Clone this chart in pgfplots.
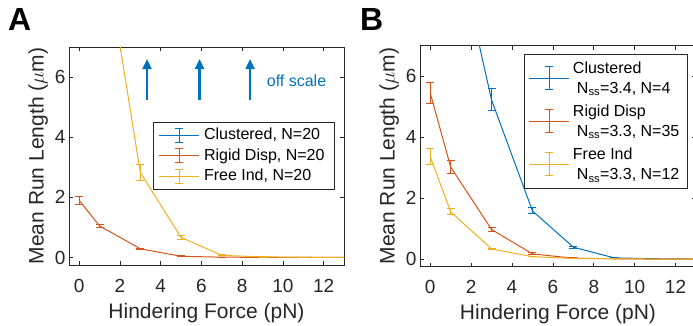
\documentclass[border=0pt]{standalone}
\usepackage{pgfplots}
\pgfplotsset{compat=1.18}
\usepackage{fontspec}
\setmainfont{Liberation Sans}
\usetikzlibrary{arrows.meta}
\definecolor{mblue}{rgb}{0,0.447,0.741}
\definecolor{morange}{rgb}{0.85,0.325,0.098}
\definecolor{myellow}{rgb}{0.929,0.694,0.125}
\definecolor{axgray}{rgb}{0.15,0.15,0.15}
\pgfplotsset{
  panel/.style={
    scale only axis, clip=true,
    xmin=-0.5, xmax=13, ymin=-0.25, ymax=7,
    xtick={0,2,4,6,8,10,12}, ytick={0,2,4,6},
    tick align=inside, major tick length=4bp,
    tick style={color=axgray, line width=0.6bp},
    axis line style={axgray, line width=0.7bp},
    /pgf/number format/assume math mode=true,
    ticklabel style={font=\fontsize{19bp}{21bp}\selectfont, text=axgray},
    xticklabel style={anchor=base, yshift=-27bp},
    label style={font=\fontsize{21bp}{24bp}\selectfont, text=axgray},
    xlabel style={at={(rel axis cs:0.5,0)}, anchor=base, yshift=-53bp},
    xlabel={Hindering Force (pN)},
    ylabel={Mean Run Length ($\mu$m)},
    legend cell align=left,
  },
  ebar/.style={color=#1, line width=1bp, mark=none,
    error bars/y dir=both, error bars/y explicit,
    error bars/error bar style={line width=1bp, color=#1},
    error bars/error mark options={rotate=90, mark size=4bp, line width=1bp, color=#1}},
  lgA/.style={legend image code/.code={
    \draw[#1, line width=1bp] (0bp,0bp) -- (40bp,0bp);
    \draw[#1, line width=1bp] (20bp,-7bp) -- (20bp,7bp);
    \draw[#1, line width=1bp] (16bp,7bp) -- (24bp,7bp);
    \draw[#1, line width=1bp] (16bp,-7bp) -- (24bp,-7bp);}},
  lgB/.style={legend image code/.code={
    \draw[#1, line width=1bp] (0bp,0bp) -- (40bp,0bp);
    \draw[#1, line width=1bp] (20bp,-11.5bp) -- (20bp,11.5bp);
    \draw[#1, line width=1bp] (16bp,11.5bp) -- (24bp,11.5bp);
    \draw[#1, line width=1bp] (16bp,-11.5bp) -- (24bp,-11.5bp);}},
}
\begin{document}
\begin{tikzpicture}
\path[use as bounding box] (0bp,0bp) rectangle (693bp,326bp);
\clip (0bp,0bp) rectangle (693bp,326bp);
\node[anchor=north west, inner sep=0pt, font=\fontsize{32bp}{34bp}\selectfont\bfseries] at (8bp,318bp) {A};
\node[anchor=north west, inner sep=0pt, font=\fontsize{32bp}{34bp}\selectfont\bfseries] at (360bp,318bp) {B};
% Panel A
\begin{axis}[panel, at={(69bp,61bp)}, anchor=south west, width=275bp, height=218bp,
  legend style={at={(rel axis cs:0.967,0.656)}, anchor=north east,
    font=\fontsize{16bp}{19bp}\selectfont, draw=axgray, line width=0.7bp, fill=white,
    inner xsep=5.5bp, inner ysep=2.5bp,
    nodes={inner xsep=4.5bp, inner ysep=2.6bp, text height=12bp, text depth=3.5bp}}]
\addlegendimage{lgA=mblue}
\addlegendentry{Clustered, N=20}
\addplot[ebar=morange, lgA=morange] coordinates {
 (0,1.9) +- (0,0.13)
 (1,1.05) +- (0,0.06)
 (3,0.29) +- (0,0.025)
 (5,0.04) +- (0,0.01)
 (7,0.01) +- (0,0.005)
 (9,0.005) +- (0,0.003)
 (11,0) +- (0,0)
 (13,0) +- (0,0)
};
\addlegendentry{Rigid Disp, N=20}
\addplot[ebar=myellow, lgA=myellow] coordinates {
 (1,11.3) +- (0,0.5)
 (3,2.83) +- (0,0.26)
 (5,0.67) +- (0,0.07)
 (7,0.07) +- (0,0.02)
 (9,0.02) +- (0,0.01)
 (11,0.01) +- (0,0.005)
 (13,0) +- (0,0)
};
\addlegendentry{Free Ind, N=20}
\draw[mblue, line width=2.2bp, -{Triangle[length=10bp,width=9bp]}] (axis cs:3.33,5.23) -- (axis cs:3.33,6.6);
\draw[mblue, line width=2.2bp, -{Triangle[length=10bp,width=9bp]}] (axis cs:5.91,5.23) -- (axis cs:5.91,6.6);
\draw[mblue, line width=2.2bp, -{Triangle[length=10bp,width=9bp]}] (axis cs:8.39,5.23) -- (axis cs:8.39,6.6);
\node[text=mblue, font=\fontsize{16bp}{19bp}\selectfont] at (axis cs:10.67,5.86) {off scale};
\end{axis}
% Panel B
\begin{axis}[panel, at={(420bp,59.3bp)}, anchor=south west, width=276bp, height=221bp,
  legend style={at={(rel axis cs:0.97,0.961)}, anchor=north east,
    font=\fontsize{16bp}{20bp}\selectfont, draw=axgray, line width=0.7bp, fill=white,
    inner xsep=5bp, inner ysep=6bp, row sep=8bp,
    nodes={inner xsep=3bp, inner ysep=1bp}, cells={align=left}}]
\addplot[ebar=mblue, lgB=mblue] coordinates {
 (1,11.2) +- (0,0.5)
 (3,5.22) +- (0,0.36)
 (5,1.58) +- (0,0.1)
 (7,0.39) +- (0,0.03)
 (9,0.04) +- (0,0.01)
 (11,0.01) +- (0,0.005)
 (13,0) +- (0,0)
};
\addlegendentry{Clustered\\\hspace*{4bp}N\textsubscript{ss}=3.4, N=4}
\addplot[ebar=morange, lgB=morange] coordinates {
 (0,5.45) +- (0,0.33)
 (1,3.02) +- (0,0.2)
 (3,0.97) +- (0,0.07)
 (5,0.17) +- (0,0.03)
 (7,0.03) +- (0,0.01)
 (9,0.01) +- (0,0.005)
 (11,0) +- (0,0)
 (13,0) +- (0,0)
};
\addlegendentry{Rigid Disp\\\hspace*{4bp}N\textsubscript{ss}=3.3, N=35}
\addplot[ebar=myellow, lgB=myellow] coordinates {
 (0,3.36) +- (0,0.27)
 (1,1.55) +- (0,0.1)
 (3,0.33) +- (0,0.03)
 (5,0.08) +- (0,0.01)
 (7,0.02) +- (0,0.005)
 (9,0.01) +- (0,0.005)
 (11,0) +- (0,0)
 (13,0) +- (0,0)
};
\addlegendentry{Free Ind\\\hspace*{4bp}N\textsubscript{ss}=3.3, N=12}
\end{axis}
\end{tikzpicture}
\end{document}
